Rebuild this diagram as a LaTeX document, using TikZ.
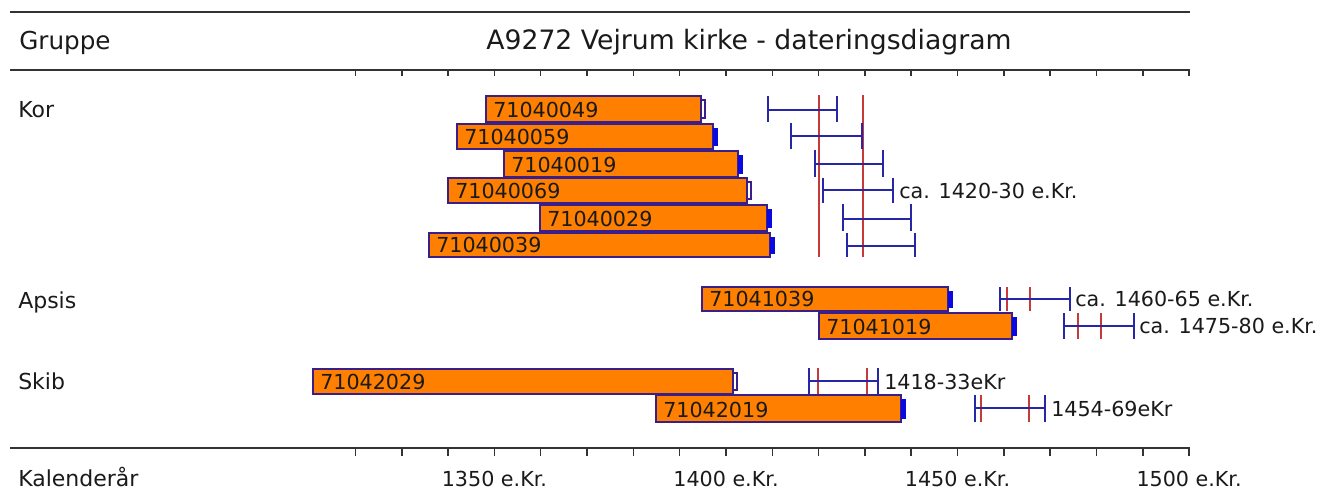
\documentclass[tikz,border=0pt]{standalone}
\usepackage{fontspec}
\setmainfont{DejaVu Sans}
\definecolor{axisgray}{HTML}{333333}
\definecolor{barfill}{HTML}{FF8000}
\definecolor{barline}{HTML}{3A1F8A}
\definecolor{boxblue}{HTML}{0A0AE0}
\definecolor{errblue}{HTML}{2626A6}
\definecolor{redline}{HTML}{C83A3A}
\definecolor{txt}{HTML}{1A1A1A}
\tikzset{
  axisline/.style={axisgray, line width=2.2pt},
  tickline/.style={axisgray, line width=1.1pt},
  barstyle/.style={fill=barfill, draw=barline, line width=1.3pt},
  openbox/.style={fill=white, draw=barline, line width=1pt},
  fullbox/.style={fill=boxblue, draw=boxblue, line width=0.6pt},
  errstyle/.style={errblue, line width=1.5pt},
  redstyle/.style={redline, line width=1.2pt},
  bartext/.style={inner sep=0pt, text=txt, font=\fontsize{15.5pt}{16pt}\selectfont},
  smalltext/.style={inner sep=0pt, text=txt, font=\fontsize{15.5pt}{16pt}\selectfont},
  rowtext/.style={inner sep=0pt, text=txt, font=\fontsize{16.5pt}{17pt}\selectfont},
  headtext/.style={inner sep=0pt, text=txt, font=\fontsize{18.5pt}{19pt}\selectfont},
  titletext/.style={inner sep=0pt, text=txt, font=\fontsize{20pt}{21pt}\selectfont},
}
% left, right, top, bottom, label, box style, node name
\newcommand{\kbar}[7]{%
  \draw[barstyle] (#1,#3) rectangle (#2,#4);
  \draw[#6] (#2,#3+4) rectangle (#2+4,#4-4);
  \node[bartext, anchor=base west] (#7) at (#1+7,#4-4.5) {#5};
}
% left, right, top, bottom, middle
\newcommand{\ebar}[5]{%
  \draw[errstyle] (#1,#3) -- (#1,#4) (#2,#3) -- (#2,#4) (#1,#5) -- (#2,#5);
}
\begin{document}
\begin{tikzpicture}[x=0.75pt,y=-0.75pt]
\useasboundingbox[fill=white] (0,0) rectangle (1327,501);
% frame lines
\draw[axisline] (10,12) -- (1190,12);
\draw[axisline] (10,70) -- (1190,70);
\draw[axisline] (10,448) -- (1190,448);
\foreach \k in {0,...,18} {
  \draw[tickline] ({355.5+46.31*\k},70) -- ({355.5+46.31*\k},76);
  \draw[tickline] ({355.5+46.31*\k},448) -- ({355.5+46.31*\k},456);
}
% headings
\node[headtext, anchor=base west] (gruppe) at (19,49) {Gruppe};
\node[titletext, anchor=base] (title) at (749,49) {A9272 Vejrum kirke - dateringsdiagram};
\node[rowtext, anchor=base west] (kor) at (18,117) {Kor};
\node[rowtext, anchor=base west] (apsis) at (18,308) {Apsis};
\node[rowtext, anchor=base west] (skib) at (18,389) {Skib};
\node[rowtext, anchor=base west] (kal) at (18,486) {Kalenderår};
\node[smalltext, anchor=base] (y1350) at ({355.5+46.31*3},486) {1350 e.Kr.};
\node[smalltext, anchor=base] (y1400) at ({355.5+46.31*8},486) {1400 e.Kr.};
\node[smalltext, anchor=base] (y1450) at ({355.5+46.31*13},486) {1450 e.Kr.};
\node[smalltext, anchor=base] (y1500) at ({355.5+46.31*18},486) {1500 e.Kr.};
% Kor bars
\kbar{486}{701}{96}{122}{71040049}{openbox}{b1}
\kbar{457}{713}{124}{149}{71040059}{fullbox}{b2}
\kbar{504}{738}{151}{177}{71040019}{fullbox}{b3}
\kbar{448}{747}{178}{203}{71040069}{openbox}{b4}
\kbar{540}{767}{205}{231}{71040029}{fullbox}{b5}
\kbar{429}{770}{233}{257}{71040039}{fullbox}{b6}
% Kor error bars
\draw[redstyle] (819,95) -- (819,257);
\draw[redstyle] (863,95) -- (863,257);
\ebar{768}{837}{96}{122}{110}
\ebar{791}{862}{123}{149}{136}
\ebar{815}{883}{150}{177}{164}
\ebar{823}{893}{178}{203}{190}
\ebar{843}{911}{204}{231}{219}
\ebar{847}{915}{233}{257}{246}
\node[smalltext, anchor=base west] (korlbl) at (899,198) {ca. 1420-30 e.Kr.};
% Apsis
\kbar{702}{948}{287}{311}{71041039}{fullbox}{a1}
\kbar{819}{1012}{313}{339}{71041019}{fullbox}{a2}
\draw[redstyle] (1007,287) -- (1007,311) (1030,287) -- (1030,311);
\draw[redstyle] (1078,313) -- (1078,339) (1101,313) -- (1101,339);
\ebar{1000}{1070}{287}{311}{299}
\ebar{1064}{1134}{313}{339}{326}
\node[smalltext, anchor=base west] (aplbl1) at (1075,306) {ca. 1460-65 e.Kr.};
\node[smalltext, anchor=base west] (aplbl2) at (1139,333) {ca. 1475-80 e.Kr.};
% Skib
\kbar{313}{733}{369}{394}{71042029}{openbox}{s1}
\kbar{656}{901}{395}{422}{71042019}{fullbox}{s2}
\draw[redstyle] (818,368) -- (818,394) (867,368) -- (867,394);
\draw[redstyle] (981,395) -- (981,422) (1029,395) -- (1029,422);
\ebar{809}{878}{368}{394}{381}
\ebar{975}{1045}{395}{422}{408}
\node[smalltext, anchor=base west] (sklbl1) at (884,389) {1418-33eKr};
\node[smalltext, anchor=base west] (sklbl2) at (1051,416) {1454-69eKr};
\end{tikzpicture}
\end{document}
